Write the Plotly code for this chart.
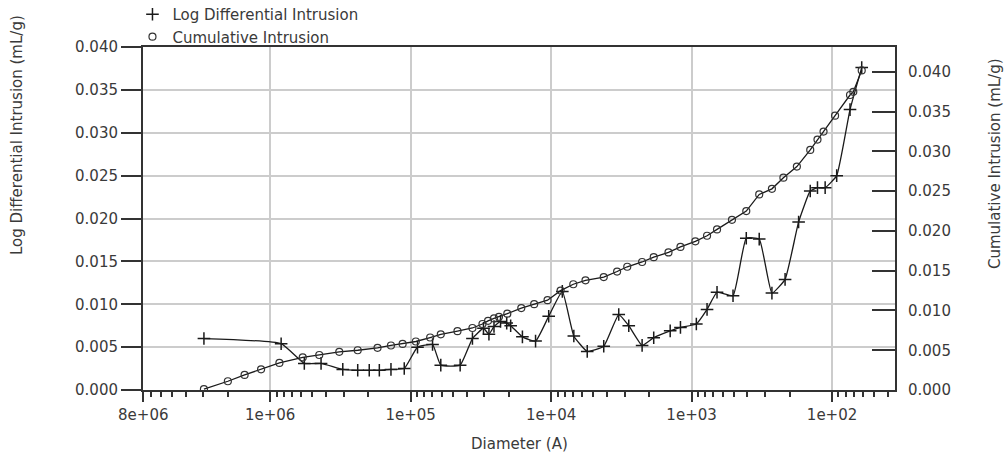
import plotly.graph_objects as go

# ---- data ----
diam_ldi = [2.96e6, 8.35e5, 5.71e5, 4.34e5, 3.04e5, 2.38e5, 1.97e5, 1.67e5, 1.38e5, 1.11e5,
            8.93e4, 6.98e4, 6.10e4, 4.44e4, 3.63e4, 3.03e4, 2.77e4, 2.55e4, 2.29e4, 2.07e4,
            1.94e4, 1.60e4, 1.29e4, 1.04e4, 8.32e3, 6.89e3, 5.53e3, 4.22e3, 3.30e3, 2.80e3,
            2.25e3, 1.86e3, 1.42e3, 1.20e3, 925, 776, 659, 507, 408, 330,
            268, 216, 173, 143, 127, 112, 92.7, 74.5, 61.5]
log_diff = [0.0060, 0.0054, 0.0031, 0.0031, 0.0024, 0.0023, 0.0023, 0.0023, 0.0024, 0.0025,
            0.0050, 0.0053, 0.0029, 0.0029, 0.0060, 0.0072, 0.0065, 0.0074, 0.0080, 0.0078,
            0.0075, 0.0062, 0.0057, 0.0086, 0.0115, 0.0063, 0.0045, 0.0051, 0.0088, 0.0075,
            0.0052, 0.0061, 0.0069, 0.0073, 0.0077, 0.0094, 0.0114, 0.0110, 0.0177, 0.0176,
            0.0113, 0.0129, 0.0196, 0.0232, 0.0236, 0.0236, 0.0250, 0.0327, 0.0376]

diam_cum = [2.96e6, 2.0e6, 1.52e6, 1.16e6, 8.59e5, 5.86e5, 4.47e5, 3.22e5, 2.38e5, 1.72e5,
            1.38e5, 1.14e5, 9.18e4, 7.26e4, 6.10e4, 4.64e4, 3.63e4, 3.08e4, 2.81e4, 2.55e4,
            2.35e4, 2.05e4, 1.63e4, 1.32e4, 1.06e4, 8.56e3, 6.95e3, 5.69e3, 4.22e3, 3.39e3,
            2.87e3, 2.25e3, 1.86e3, 1.46e3, 1.20e3, 940, 776, 659, 516, 408,
            330, 268, 222, 178, 143, 127, 115, 95.2, 74.5, 70.6, 61.5]
cum_intr = [0.0001, 0.0011, 0.0019, 0.0026, 0.0034, 0.0041, 0.0044, 0.0048, 0.0050, 0.0053,
            0.0056, 0.0058, 0.0061, 0.0066, 0.0070, 0.0074, 0.0078, 0.0083, 0.0087, 0.0090,
            0.0092, 0.0096, 0.0103, 0.0108, 0.0113, 0.0125, 0.0133, 0.0138, 0.0142, 0.0149,
            0.0155, 0.0161, 0.0167, 0.0173, 0.0180, 0.0187, 0.0194, 0.0202, 0.0214, 0.0225,
            0.0246, 0.0253, 0.0267, 0.0281, 0.0302, 0.0315, 0.0325, 0.0345, 0.0371, 0.0375, 0.0402]

x_tickvals = [8e6, 1e6, 1e5, 1e4, 1e3, 1e2]
x_ticktext = ["8e+06", "1e+06", "1e+05", "1e+04", "1e+03", "1e+02"]
y_ticks = [0.000, 0.005, 0.010, 0.015, 0.020, 0.025, 0.030, 0.035, 0.040]

FONT = "DejaVu Sans"
TXT = "#3a3a3a"
LINE = "#1a1a1a"

fig = go.Figure()
fig.add_trace(go.Scatter(
    x=diam_ldi, y=log_diff, mode="lines+markers", showlegend=False,
    line=dict(color=LINE, width=1.3, shape="spline", smoothing=0.4),
    marker=dict(symbol="cross-thin", size=9, line=dict(color=LINE, width=1.5)),
    yaxis="y"))
fig.add_trace(go.Scatter(
    x=diam_cum, y=cum_intr, mode="lines+markers", showlegend=False,
    line=dict(color=LINE, width=1.3),
    marker=dict(symbol="circle-open", size=7, color="#333", line=dict(width=1.2)),
    yaxis="y2"))
# legend entries
fig.add_trace(go.Scatter(x=[None], y=[None], mode="markers", name="Log Differential Intrusion",
                         marker=dict(symbol="cross-thin", size=9, line=dict(color=LINE, width=1.5))))
fig.add_trace(go.Scatter(x=[None], y=[None], mode="markers", name="Cumulative Intrusion",
                         marker=dict(symbol="circle-open", size=7, color="#333", line=dict(width=1.2))))

minor_vals = [m * 10 ** e for e in range(1, 7) for m in range(2, 10)]

fig.update_layout(
    width=1006, height=457,
    margin=dict(l=143, r=111, t=47, b=67, autoexpand=False),
    paper_bgcolor="white", plot_bgcolor="white",
    font=dict(family=FONT, size=15, color=TXT),
    showlegend=True,
    legend=dict(x=-0.014, y=1.143, xanchor="left", yanchor="top",
                bgcolor="rgba(0,0,0,0)", font=dict(size=15, color=TXT),
                tracegroupgap=0, itemwidth=30),
    xaxis=dict(type="log", range=[6.905, 1.552], tickmode="array",
               tickvals=x_tickvals, ticktext=x_ticktext,
               ticks="outside", ticklen=10, tickwidth=2, tickcolor="#333",
               minor=dict(tickmode="array", tickvals=minor_vals, ticks="outside",
                          ticklen=5, tickwidth=1.5, tickcolor="#333", showgrid=False),
               showgrid=True, gridcolor="#cccccc", gridwidth=1.5,
               showline=True, linecolor="#333", linewidth=2, mirror=True,
               zeroline=False, tickfont=dict(size=15, color=TXT)),
    yaxis=dict(range=[0, 0.040], tickmode="array", tickvals=y_ticks, tickformat=".3f",
               ticks="outside", ticklen=20, tickwidth=2, tickcolor="#333",
               showgrid=True, gridcolor="#cccccc", gridwidth=1.5,
               showline=True, linecolor="#333", linewidth=2,
               zeroline=False, tickfont=dict(size=15, color=TXT)),
    yaxis2=dict(range=[0, 0.04314], overlaying="y", side="right", tickmode="array",
                tickvals=y_ticks, tickformat=".3f",
                ticks="inside", ticklen=23, tickwidth=2, tickcolor="#333",
                showgrid=False, showline=True, linecolor="#333", linewidth=2,
                zeroline=False, ticklabelstandoff=8, tickfont=dict(size=15, color=TXT)),
    annotations=[
        dict(text="Diameter (A)", xref="paper", yref="paper", x=0.5, y=0,
             xanchor="center", yanchor="middle", yshift=-54, showarrow=False,
             font=dict(size=15, color=TXT)),
        dict(text="Log Differential Intrusion (mL/g)", xref="paper", yref="paper",
             x=0, y=1, xanchor="center", yanchor="middle", xshift=-126, yshift=-88,
             textangle=-90, showarrow=False, font=dict(size=15, color=TXT)),
        dict(text="Cumulative Intrusion (mL/g)", xref="paper", yref="paper",
             x=1, y=1, xanchor="center", yanchor="middle", xshift=100, yshift=-117,
             textangle=-90, showarrow=False, font=dict(size=15, color=TXT)),
    ],
)

fig.write_html("out.html")
